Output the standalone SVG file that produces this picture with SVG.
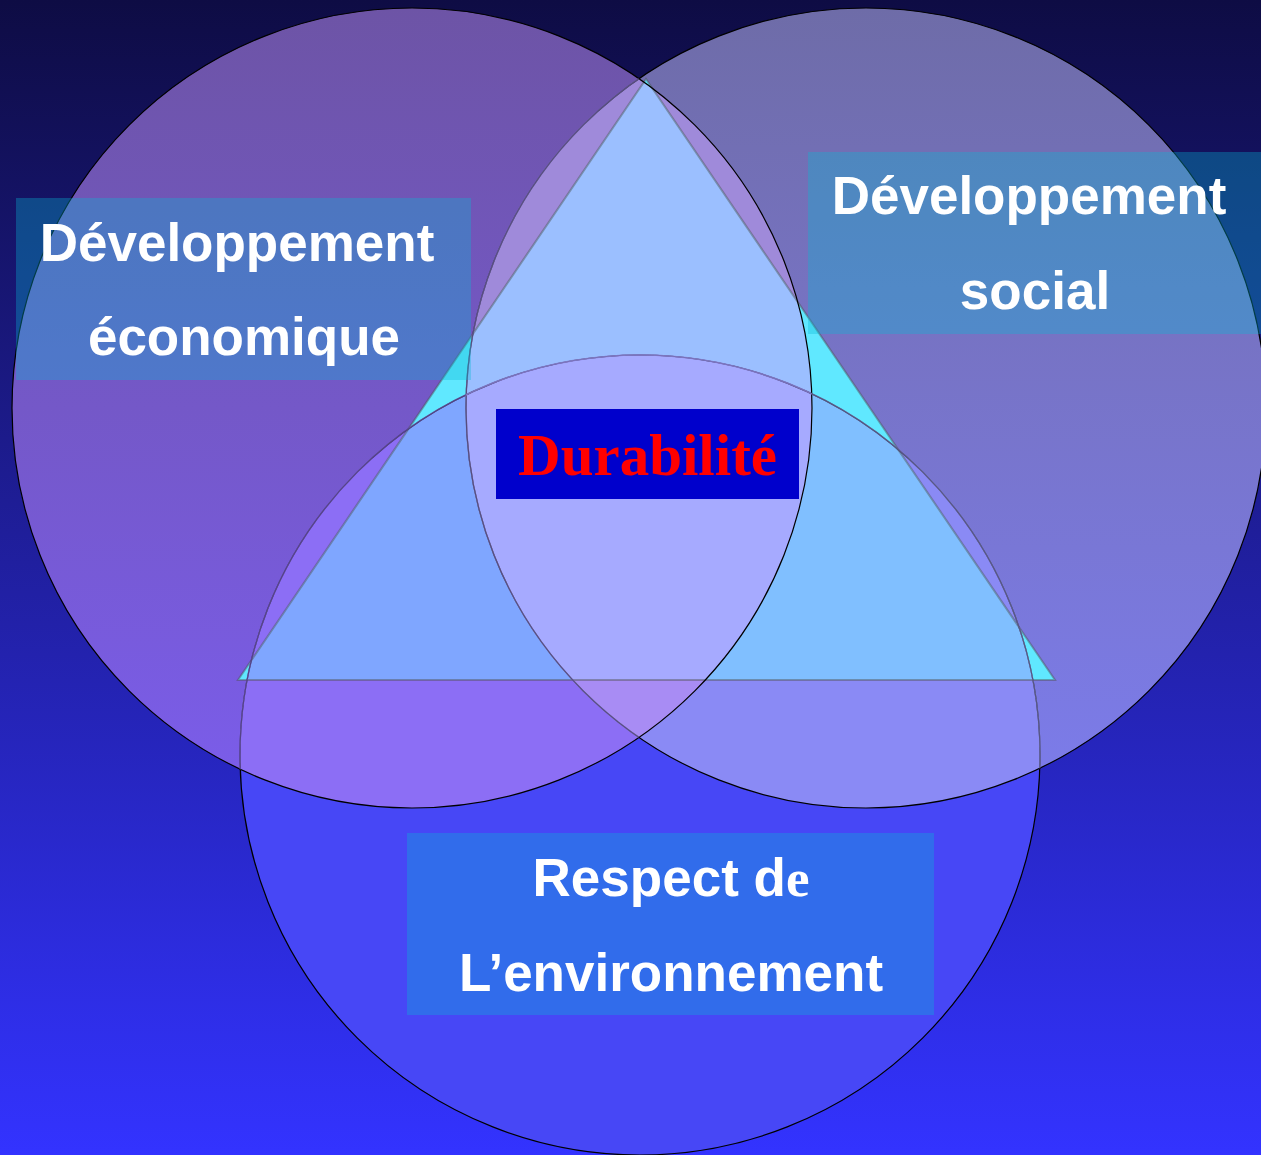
<svg xmlns="http://www.w3.org/2000/svg" width="1261" height="1155" viewBox="0 0 1261 1155">
<style>
.lbl{font-family:"Liberation Sans",Arial,sans-serif;font-weight:bold;font-size:53px;fill:#ffffff;text-anchor:middle}
.box{fill:rgb(5,186,212);fill-opacity:0.33}
.edge{fill:none;stroke:#000000;stroke-width:1.2}
.veil{fill:none;stroke-width:1.6;stroke-opacity:0.6}
</style>
<defs>
<linearGradient id="bg" x1="0" y1="0" x2="0" y2="1155" gradientUnits="userSpaceOnUse">
<stop offset="0" stop-color="#0e0c44"/><stop offset="1" stop-color="#3333ff"/>
</linearGradient>
<linearGradient id="gL" x1="0" y1="8" x2="0" y2="808" gradientUnits="userSpaceOnUse">
<stop offset="0" stop-color="#6d54a6"/><stop offset="0.5" stop-color="#7458c8"/><stop offset="1" stop-color="#7b5dec"/>
</linearGradient>
<linearGradient id="gR" x1="0" y1="8" x2="0" y2="808" gradientUnits="userSpaceOnUse">
<stop offset="0" stop-color="#6e6ca8"/><stop offset="0.35" stop-color="#7672c0"/><stop offset="1" stop-color="#7c7cec"/>
</linearGradient>
<circle id="cirL" cx="412" cy="408" r="400"/>
<circle id="cirR" cx="866" cy="408" r="400"/>
<circle id="cirB" cx="640" cy="755" r="400"/>
<polygon id="tri" points="646,79 238,680 1055,680"/>
<clipPath id="cL"><use href="#cirL"/></clipPath>
<clipPath id="cR"><use href="#cirR"/></clipPath>
<clipPath id="cB"><use href="#cirB"/></clipPath>
<clipPath id="cT"><use href="#tri"/></clipPath>
</defs>
<rect width="1261" height="1155" fill="url(#bg)"/>
<g id="circle-fills">
<use href="#cirB" fill="#4747f6"/>
<use href="#cirR" fill="url(#gR)"/>
<use href="#cirL" fill="url(#gL)"/>
<g clip-path="url(#cL)"><use href="#cirR" fill="#9f8ada"/><use href="#cirB" fill="#8c6ef5"/></g>
<g clip-path="url(#cR)"><use href="#cirB" fill="#8a8af5"/></g>
<g clip-path="url(#cL)"><g clip-path="url(#cR)"><use href="#cirB" fill="#a88cf4"/></g></g>
</g>
<g id="triangle">
<use href="#tri" fill="#60e8ff"/>
<g clip-path="url(#cT)">
<g clip-path="url(#cL)"><use href="#cirR" fill="#9bbfff"/><use href="#cirB" fill="#7fa6ff"/></g>
<g clip-path="url(#cR)"><use href="#cirB" fill="#80bfff"/></g>
<g clip-path="url(#cL)"><g clip-path="url(#cR)"><use href="#cirB" fill="#a6aaff"/></g></g>
</g>
<use href="#tri" fill="none" stroke="#505050" stroke-width="2" stroke-opacity="0.45"/>
</g>
<g id="circle-edges">
<use href="#cirB" class="edge"/>
<use href="#cirR" class="edge"/>
<use href="#cirL" class="edge"/>
<g clip-path="url(#cL)"><use href="#cirB" class="veil" stroke="#8c70e0"/><use href="#cirR" class="veil" stroke="#9080d0"/></g>
<g clip-path="url(#cR)"><use href="#cirB" class="veil" stroke="#9090d8"/></g>
</g>
<g id="connectors"/>
<g id="label-economique">
<rect class="box" x="16" y="198" width="455" height="182"/>
<text class="lbl" x="237" y="261">Développement</text>
<text class="lbl" x="244" y="355">économique</text>
</g>
<g id="label-social">
<rect class="box" x="808" y="152" width="453" height="182"/>
<text class="lbl" x="1029" y="214">Développement</text>
<text class="lbl" x="1035" y="309">social</text>
</g>
<g id="label-environnement">
<rect class="box" x="407" y="833" width="527" height="182"/>
<text class="lbl" x="671" y="896">Respect d<tspan font-family="'Liberation Serif','Times New Roman',serif">e</tspan></text>
<text class="lbl" x="671" y="991">L’environnement</text>
</g>
<g id="durabilite">
<rect x="496" y="409" width="303" height="90" fill="#0000cc"/>
<text x="647.5" y="475" font-family="'Liberation Serif','Times New Roman',serif" font-weight="bold" font-size="59" fill="#ff0000" text-anchor="middle">Durabilité</text>
</g>
</svg>
